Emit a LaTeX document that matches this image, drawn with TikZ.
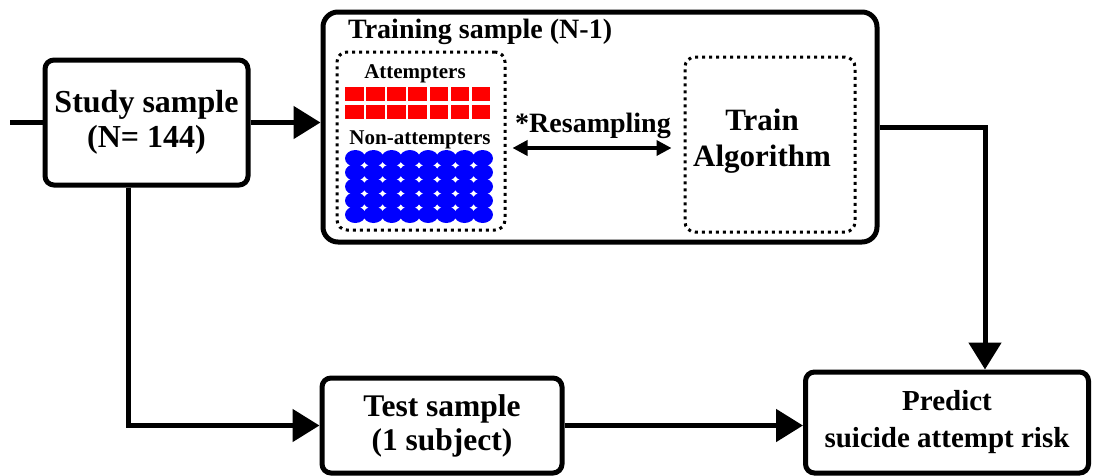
\documentclass[tikz,border=0pt]{standalone}
\usepackage{fontspec}
\setmainfont{Liberation Serif}
\usetikzlibrary{arrows.meta,calc}
\begin{document}
\begin{tikzpicture}[x=1pt,y=-1pt,
  box/.style={draw,line width=5pt,rounded corners=9pt,inner sep=0pt,align=center},
  dotbox/.style={draw,line width=3pt,dash pattern=on 3pt off 4pt,rounded corners=10pt,inner sep=0pt},
  conn/.style={line width=5pt,-{Triangle[length=27pt,width=32pt]}},
  plain/.style={line width=5pt},
  dbl/.style={line width=3.5pt,{Triangle[length=15pt,width=15pt]}-{Triangle[length=15pt,width=15pt]}},
  lbl/.style={inner sep=0pt,font=\bfseries\fontsize{21}{24}\selectfont}
]
\useasboundingbox (0,0) rectangle (1096,475);
% main boxes
\node[box,minimum width=203pt,minimum height=125pt,font=\bfseries\fontsize{32}{35}\selectfont] (study) at (146.5,122.5) {Study sample\\(N= 144)};
\node[box,rounded corners=15pt,minimum width=554pt,minimum height=230pt] (train) at (600,127) {};
\node[box,minimum width=240pt,minimum height=95pt,font=\bfseries\fontsize{31.5}{34}\selectfont] (test) at (442,425.5) {Test sample\\(1 subject)};
\node[box,minimum width=283pt,minimum height=101pt,font=\bfseries\fontsize{29}{37}\selectfont] (predict) at (947,422.5) {Predict\\suicide attempt risk};
% inside training box
\node[anchor=base west,inner sep=0pt,font=\bfseries\fontsize{28}{30}\selectfont] (ttitle) at (348,38) {Training sample (N-1)};
\node[dotbox,minimum width=168pt,minimum height=178pt] (ldot) at (421,141) {};
\node[dotbox,minimum width=170pt,minimum height=175pt] (rdot) at (770,144.5) {};
\node[lbl,anchor=base] (att) at (415,78) {Attempters};
\node[lbl,anchor=base] (non) at (420,144) {Non-attempters};
\node[anchor=base,inner sep=0pt,font=\bfseries\fontsize{28}{32}\selectfont] (res) at (593,132) {*Resampling};
\node[inner sep=0pt,align=center,font=\bfseries\fontsize{31}{36}\selectfont] (alg) at (762,141) {Train\\Algorithm};
% red squares
\foreach \i in {0,...,6}{
  \foreach \j in {0,1}{
    \fill[red] (345+\i*21.15,87+\j*18) rectangle ++(18.5,13.5);
  }
}
% blue ellipses
\foreach \i in {0,...,7}{
  \foreach \j in {0,...,4}{
    \fill[blue] (355.3+\i*18.2,158.3+\j*14.1) ellipse [x radius=10.3pt,y radius=8.3pt];
  }
}
% connectors
\coordinate (in) at (10,122.5);
\draw[plain] (in) -- (study.west);
\draw[conn] (study.east) -- (study.east -| train.west);
\coordinate (corner) at (985,127);
\draw[conn] (train.east) -- (corner) -- (corner |- predict.north);
\coordinate (down) at ([xshift=-18.5pt]study.south);
\draw[conn] (down) -- (down |- test.west) -- (test.west);
\draw[conn] (test.east) -- (test.east -| predict.west);
\draw[dbl,shorten <=6pt,shorten >=12pt] ([yshift=-7pt]ldot.east) -- ([yshift=-7pt]ldot.east -| rdot.west);
\end{tikzpicture}
\end{document}
